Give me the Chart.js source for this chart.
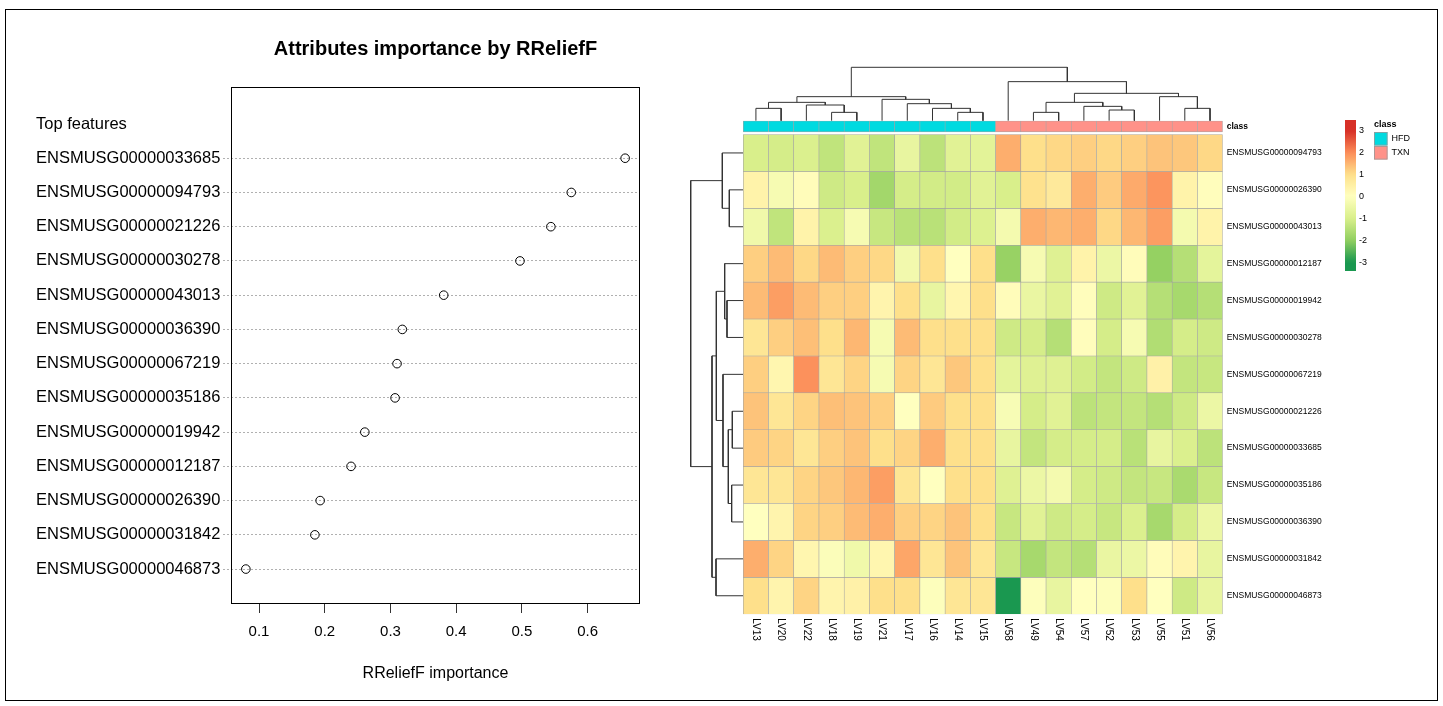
<!DOCTYPE html>
<html>
<head>
<meta charset="utf-8">
<script src="https://cdn.jsdelivr.net/npm/chart.js@4.4.1/dist/chart.umd.min.js"></script>
<style>
html,body{margin:0;padding:0;background:#fff;}
body{width:1443px;height:706px;position:relative;overflow:hidden;}
canvas{position:absolute;}
#frame{position:absolute;left:5px;top:9px;width:1433px;height:692px;border:1px solid #000;box-sizing:border-box;}
</style>
</head>
<body>
<div id="frame"></div>
<canvas id="dot" width="680" height="706" style="left:0;top:0"></canvas>
<canvas id="heat" width="680" height="620" style="left:680px;top:50px"></canvas>
<canvas id="cbar" width="100" height="190" style="left:1330px;top:100px"></canvas>
<script>
// ---------------- Left panel: RReliefF importance ----------------
const dotTitle = 'Attributes importance by RReliefF';
const dotXTitle = 'RReliefF importance';
const topHeader = 'Top features';
const features = ['ENSMUSG00000033685','ENSMUSG00000094793','ENSMUSG00000021226','ENSMUSG00000030278','ENSMUSG00000043013','ENSMUSG00000036390','ENSMUSG00000067219','ENSMUSG00000035186','ENSMUSG00000019942','ENSMUSG00000012187','ENSMUSG00000026390','ENSMUSG00000031842','ENSMUSG00000046873'];
const importance = [0.657,0.575,0.544,0.497,0.381,0.318,0.310,0.307,0.261,0.240,0.193,0.185,0.080];
const importanceTicks = [0.1,0.2,0.3,0.4,0.5,0.6];

// ---------------- Right panel: heatmap ----------------
const samples = ['LV13','LV20','LV22','LV18','LV19','LV21','LV17','LV16','LV14','LV15','LV58','LV49','LV54','LV57','LV52','LV53','LV55','LV51','LV56'];
const sampleClass = ['HFD','HFD','HFD','HFD','HFD','HFD','HFD','HFD','HFD','HFD','TXN','TXN','TXN','TXN','TXN','TXN','TXN','TXN','TXN'];
const classNames = ['HFD','TXN'];
const classColors = ['#00DAE0','#FF9289'];
const classLabel = 'class';
const genes = ['ENSMUSG00000094793','ENSMUSG00000026390','ENSMUSG00000043013','ENSMUSG00000012187','ENSMUSG00000019942','ENSMUSG00000030278','ENSMUSG00000067219','ENSMUSG00000021226','ENSMUSG00000033685','ENSMUSG00000035186','ENSMUSG00000036390','ENSMUSG00000031842','ENSMUSG00000046873'];

const z94793 = [-1.0,-1.05,-0.95,-1.35,-0.8,-1.35,-0.6,-1.4,-0.8,-0.75, 1.6,1.0,1.1,1.2,1.1,1.2,1.35,1.3,1.1];
const z26390 = [0.4,-0.25,0.1,-1.15,-1.0,-1.75,-1.05,-1.1,-1.1,-0.8, -1.0,0.95,0.7,1.6,1.25,1.65,1.9,0.4,0.05];
const z43013 = [-0.4,-1.35,0.4,-0.95,-0.25,-1.25,-1.45,-1.45,-1.1,-0.9, -0.3,1.6,1.5,1.6,1.1,1.5,1.8,-0.3,0.4];
const z12187 = [1.2,1.45,1.1,1.45,1.2,1.1,-0.35,1.0,0.0,1.0, -1.9,-0.25,-0.85,0.4,-0.5,0.1,-1.95,-1.5,-0.7];
const z19942 = [1.45,1.8,1.45,1.2,1.2,0.35,1.0,-0.6,0.3,1.0, 0.1,-0.55,-0.8,0.05,-1.15,-0.8,-1.5,-1.7,-1.5];
const z30278 = [0.8,1.2,1.4,1.0,1.5,-0.25,1.45,1.0,1.0,1.0, -1.15,-1.05,-1.5,0.05,-1.05,-0.25,-1.55,-1.05,-1.15];
const z67219 = [1.2,0.3,1.95,0.8,1.15,-0.25,1.15,0.8,1.3,1.0, -0.7,-0.85,-0.85,-1.1,-1.3,-1.15,0.45,-1.3,-1.25];
const z21226 = [1.35,0.8,1.15,1.4,1.35,1.2,0.0,1.25,1.0,1.0, -0.2,-1.05,-0.8,-1.4,-1.3,-1.3,-1.5,-1.15,-0.5];
const z33685 = [1.25,1.15,0.8,1.2,1.35,1.0,1.15,1.6,1.0,1.0, -0.6,-1.3,-1.05,-1.05,-1.05,-1.45,-0.6,-0.95,-1.4];
const z35186 = [0.8,0.8,1.15,1.3,1.5,1.8,0.8,0.0,1.0,1.0, -0.85,-0.5,-0.3,-1.05,-1.15,-1.3,-1.25,-1.65,-1.25];
const z36390 = [0.0,0.35,1.15,1.2,1.45,1.6,1.2,1.15,1.35,1.0, -1.25,-0.8,-1.15,-1.05,-1.25,-0.95,-1.7,-1.05,-0.5];
const z31842 = [1.6,1.15,0.3,-0.1,-0.4,0.3,1.7,0.8,1.35,0.8, -1.25,-1.7,-1.3,-1.5,-0.55,-0.5,0.1,0.35,-0.6];
const z46873 = [1.0,0.35,1.15,0.35,0.45,1.0,1.0,-0.05,0.8,0.8, -3.2,-0.05,-0.6,0.0,-0.05,1.0,0.0,-1.15,-0.6];
const exprRows = [z94793,z26390,z43013,z12187,z19942,z30278,z67219,z21226,z33685,z35186,z36390,z31842,z46873];

// dendrograms: [childA, childB, height]; numbers = leaf positions, strings = earlier merges
const colMerges = [
  [0,1,37],[3,4,25],[2,'c1',47],['c0','c2',55],
  [8,9,25],[7,'c4',37],[6,'c5',51],[5,'c6',64],['c3','c7',72],
  [11,12,25],[14,15,32],[13,'c10',43],['c9','c11',55],
  [17,18,37],[16,'c13',72],['c12','c14',82],[10,'c15',117],['c8','c16',160]
];
const rowMerges = [
  [1,2,42],[0,'r0',63],[4,5,49],[3,'r2',56],
  [7,8,33],[9,10,35],['r4','r5',45],[6,'r6',61],['r3','r7',81],
  [11,12,82],['r8','r9',94],['r1','r10',158]
];

// colour legend
const legendTicks = [-3,-2,-1,0,1,2,3];
const legendRange = [-3.41, 3.5];
const paletteValues = [-3,-2,-1,0,1,2,3];
const paletteColors = ['#1a9850','#91cf60','#d9ef8b','#ffffbf','#fee08b','#fc8d59','#d73027'];

// ---------------- helpers ----------------
const FONT = "'Liberation Sans', Arial, Helvetica, sans-serif";
Chart.defaults.font.family = FONT;
Chart.defaults.color = '#000';

function hexRgb(h){ return [1,3,5].map(i => parseInt(h.substr(i,2),16)); }
function colorFor(v){
  const n = paletteValues.length;
  if (v <= paletteValues[0]) return paletteColors[0];
  if (v >= paletteValues[n-1]) return paletteColors[n-1];
  let k = 0;
  while (v > paletteValues[k+1]) k++;
  const t = (v - paletteValues[k]) / (paletteValues[k+1] - paletteValues[k]);
  const a = hexRgb(paletteColors[k]), b = hexRgb(paletteColors[k+1]);
  const c = a.map((x,i) => Math.round(x + (b[i]-x)*t));
  return 'rgb(' + c.join(',') + ')';
}
function dendroSegments(merges, prefix){
  const pos = {}, hgt = {};
  const ref = k => typeof k === 'number' ? [k, 0] : [pos[k], hgt[k]];
  return merges.map((m, i) => {
    const [pa, ha] = ref(m[0]);
    const [pb, hb] = ref(m[1]);
    pos[prefix + i] = (pa + pb) / 2;
    hgt[prefix + i] = m[2];
    return [[pa, ha], [pa, m[2]], [pb, m[2]], [pb, hb]];
  });
}

const boxPlugin = {
  id: 'box',
  afterDraw(ch){
    const a = ch.chartArea, c = ch.ctx;
    c.save();
    c.strokeStyle = '#000'; c.lineWidth = 1;
    c.strokeRect(Math.round(a.left)+0.5, Math.round(a.top)+0.5, Math.round(a.right-a.left)-1, Math.round(a.bottom-a.top)-1);
    c.restore();
  }
};

// ---------------- Left chart ----------------
const dotLabels = [topHeader].concat(features);
new Chart(document.getElementById('dot'), {
  type: 'scatter',
  data: {
    datasets: [{
      data: importance.map((v, i) => ({x: v, y: i + 1})),
      pointRadius: 4.3,
      pointStyle: 'circle',
      borderColor: '#000',
      borderWidth: 1,
      backgroundColor: 'rgba(0,0,0,0)'
    }]
  },
  options: {
    responsive: false, animation: false, events: [], devicePixelRatio: 1,
    layout: { padding: { left: 36, top: 37, right: 40, bottom: 0 } },
    plugins: {
      legend: { display: false }, tooltip: { enabled: false },
      title: { display: true, text: dotTitle, fullSize: false, color: '#000',
               font: { size: 20, weight: 'bold' }, padding: { top: 0, bottom: 26 } }
    },
    scales: {
      x: {
        type: 'linear', min: 0.0574, max: 0.6796, bounds: 'data',
        afterBuildTicks: s => { s.ticks = importanceTicks.map(v => ({value: v})); },
        afterFit: s => { s.height = 102; },
        ticks: { callback: v => Number(v).toFixed(1), font: { size: 15 }, color: '#000', padding: 10, autoSkip: false, maxRotation: 0 },
        grid: { display: true, drawOnChartArea: false, drawTicks: true, tickLength: 9, color: '#333', tickColor: '#333' },
        border: { display: false },
        title: { display: true, text: dotXTitle, font: { size: 16 }, color: '#000', padding: { top: 0, bottom: 22.4 } }
      },
      y: {
        type: 'linear', reverse: true, min: -1.08, max: 14.02, bounds: 'data',
        afterBuildTicks: s => { s.ticks = dotLabels.map((l, i) => ({value: i})); },
        afterFit: s => { s.width = 195; },
        ticks: { callback: v => dotLabels[v], crossAlign: 'far', font: { size: 16.5 }, color: '#000', padding: 2, autoSkip: false },
        grid: { display: true, drawTicks: true, tickLength: 8,
                color: ctx => (ctx.tick && ctx.tick.value === 0) ? 'rgba(0,0,0,0)' : '#b0b0b0',
                tickBorderDash: [2, 2] },
        border: { display: false, dash: [2, 2] }
      }
    }
  },
  plugins: [boxPlugin]
});

// ---------------- Heatmap chart ----------------
const labelFontSize = 8.5;
const colFontSize = 10;
const measureCtx = document.createElement('canvas').getContext('2d');
measureCtx.font = colFontSize + 'px ' + FONT;
const colLabelWidth = Math.max(...samples.map(s => measureCtx.measureText(s).width));

const classPos = -0.716;
const classBand = [-0.866, -0.573];
const heatDatasets = [];
exprRows.forEach((row, r) => {
  heatDatasets.push({
    type: 'bar', label: genes[r],
    data: samples.map((s, i) => ({x: i, y: [r - 0.5, r + 0.5]})),
    backgroundColor: row.map(colorFor),
    borderColor: '#a4a4a4', borderWidth: 0.6, borderSkipped: false,
    grouped: false, barPercentage: 1, categoryPercentage: 1,
    xAxisID: 'x', yAxisID: 'y'
  });
});
heatDatasets.push({
  type: 'bar', label: classLabel,
  data: samples.map((s, i) => ({x: i, y: classBand})),
  backgroundColor: sampleClass.map(c => classColors[classNames.indexOf(c)]),
  borderColor: '#a4a4a4', borderWidth: 0.6, borderSkipped: false,
  grouped: false, barPercentage: 1, categoryPercentage: 1,
  xAxisID: 'x', yAxisID: 'y'
});
dendroSegments(colMerges, 'c').forEach(seg => {
  heatDatasets.push({
    type: 'line', data: seg.map(p => ({x: p[0], y: p[1]})),
    xAxisID: 'x', yAxisID: 'yd', borderColor: '#333', borderWidth: 1,
    pointRadius: 0, fill: false, tension: 0
  });
});
dendroSegments(rowMerges, 'r').forEach(seg => {
  heatDatasets.push({
    type: 'line', data: seg.map(p => ({x: p[1], y: p[0]})),
    xAxisID: 'xd', yAxisID: 'y', borderColor: '#333', borderWidth: 1,
    pointRadius: 0, fill: false, tension: 0
  });
});

const rowTickLabels = [classLabel].concat(genes);
new Chart(document.getElementById('heat'), {
  type: 'bar',
  data: { datasets: heatDatasets },
  options: {
    responsive: false, animation: false, events: [], devicePixelRatio: 1,
    layout: { padding: { left: 10, top: 16, right: 17.35, bottom: 5.8 } },
    plugins: { legend: { display: false }, tooltip: { enabled: false } },
    scales: {
      x: {
        type: 'linear', position: 'bottom', min: -2.6125, max: 18.5, bounds: 'data', offset: false,
        afterBuildTicks: s => { s.ticks = samples.map((l, i) => ({value: i})); },
        afterFit: s => { s.height = 50; },
        ticks: { callback: v => samples[v], autoSkip: false, minRotation: -90, maxRotation: -90,
                 padding: 4 + colLabelWidth, font: { size: colFontSize }, color: '#000' },
        grid: { display: false, drawTicks: false, offset: false },
        border: { display: false }
      },
      y: {
        type: 'linear', position: 'right', reverse: true, min: -2.3564, max: 12.5, bounds: 'data', offset: false,
        afterBuildTicks: s => { s.ticks = [{value: classPos}].concat(genes.map((g, i) => ({value: i}))); },
        afterFit: s => { s.width = 120; },
        ticks: { callback: (v, i) => rowTickLabels[i], autoSkip: false, padding: 4, color: '#000',
                 font: ctx => ctx.index === 0 ? { size: labelFontSize, weight: 'bold' } : { size: labelFontSize } },
        grid: { display: false, drawTicks: false },
        border: { display: false }
      },
      yd: { type: 'linear', display: false, min: -1478.7, max: 163.9, bounds: 'data', offset: false },
      xd: { type: 'linear', display: false, reverse: true, min: -1439.8, max: 160.1, bounds: 'data', offset: false }
    }
  }
});

// ---------------- Colour key + class legend ----------------
const classLegendPlugin = {
  id: 'classLegend',
  afterDraw(ch){
    const c = ch.ctx, a = ch.chartArea;
    const x0 = a.right + 18, y0 = a.top + 5;
    c.save();
    c.textBaseline = 'middle'; c.textAlign = 'left'; c.fillStyle = '#000';
    c.font = 'bold 9px ' + FONT;
    c.fillText(classLabel, x0, y0);
    c.font = '9px ' + FONT;
    classNames.forEach((n, i) => {
      const yy = y0 + 7 + i * 14;
      c.fillStyle = classColors[i];
      c.fillRect(x0, yy, 13.5, 13.5);
      c.strokeStyle = '#999'; c.lineWidth = 0.8;
      c.strokeRect(x0 + 0.4, yy + 0.4, 12.7, 12.7);
      c.fillStyle = '#000';
      c.fillText(n, x0 + 17.5, yy + 7);
    });
    c.restore();
  }
};
new Chart(document.getElementById('cbar'), {
  type: 'bar',
  data: {
    labels: [''],
    datasets: [{
      data: [legendRange],
      backgroundColor: ctx => {
        const ch = ctx.chart, ys = ch.scales.y;
        if (!ch.chartArea || !ys) return '#ffffbf';
        const g = ch.ctx.createLinearGradient(0, ys.getPixelForValue(legendRange[0]), 0, ys.getPixelForValue(legendRange[1]));
        for (let k = 0; k <= 40; k++) {
          const v = legendRange[0] + (legendRange[1] - legendRange[0]) * k / 40;
          g.addColorStop(k / 40, colorFor(v));
        }
        return g;
      },
      borderWidth: 0, barPercentage: 1, categoryPercentage: 1
    }]
  },
  options: {
    responsive: false, animation: false, events: [], devicePixelRatio: 1,
    layout: { padding: { left: 15, top: 20, right: 44, bottom: 19 } },
    plugins: { legend: { display: false }, tooltip: { enabled: false } },
    scales: {
      x: { display: false },
      y: {
        type: 'linear', position: 'right', min: legendRange[0], max: legendRange[1], bounds: 'data',
        afterBuildTicks: s => { s.ticks = legendTicks.map(v => ({value: v})); },
        afterFit: s => { s.width = 30; },
        ticks: { callback: v => String(v), font: { size: 9 }, color: '#000', padding: 3, autoSkip: false },
        grid: { display: false, drawTicks: false },
        border: { display: false }
      }
    }
  },
  plugins: [classLegendPlugin]
});
</script>
</body>
</html>
